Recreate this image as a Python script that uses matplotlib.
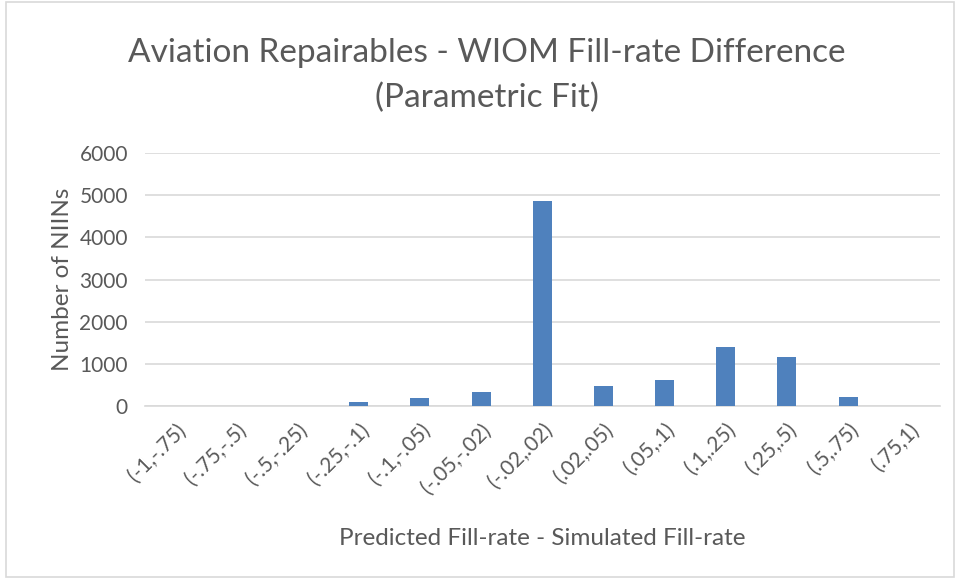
import numpy as np
import matplotlib.pyplot as plt
from matplotlib.patches import Rectangle

plt.rcParams['font.family'] = ['Lato', 'DejaVu Sans']

categories = ['(-1,-.75)', '(-.75,-.5)', '(-.5,-.25)', '(-.25,-.1)', '(-.1,-.05)',
              '(-.05,-.02)', '(-.02,.02)', '(.02,.05)', '(.05,.1)', '(.1,.25)',
              '(.25,.5)', '(.5,.75)', '(.75,1)']
counts = [0, 0, 0, 95, 185, 325, 4860, 470, 620, 1405, 1155, 215, 0]

grey = '#595959'
fig = plt.figure(figsize=(9.58, 5.8), dpi=100)
fig.patches.append(Rectangle((0.006, 0.006), 0.99, 0.99, transform=fig.transFigure,
                             fill=False, edgecolor='#d9d9d9', linewidth=1.2))
ax = fig.add_axes([0.151, 0.300, 0.830, 0.436])

x = np.arange(len(categories))
ax.bar(x, counts, width=0.31, color='#4f81bd', zorder=3)
ax.set_xlim(-0.5, len(categories) - 0.5)
ax.set_ylim(0, 6000)
ax.set_yticks(np.arange(0, 6001, 1000))
ax.grid(axis='y', color='#d9d9d9', linewidth=1.2, zorder=0)
for s in ['top', 'right', 'left']:
    ax.spines[s].set_visible(False)
ax.spines['bottom'].set_color('#d9d9d9')
ax.spines['bottom'].set_linewidth(1.2)
ax.tick_params(axis='both', length=0, colors=grey, labelsize=15)
ax.tick_params(axis='y', pad=12)
ax.set_xticks(x)
ax.set_xticklabels(categories, rotation=45, ha='right', rotation_mode='anchor')
ax.tick_params(axis='x', pad=10)

ax.set_ylabel('Number of NIINs', fontsize=17.5, color=grey, labelpad=5)
ax.set_xlabel('Predicted Fill-rate - Simulated Fill-rate', fontsize=17.5, color=grey, labelpad=22)
fig.text(0.508, 0.87, 'Aviation Repairables - WIOM Fill-rate Difference\n(Parametric Fit)',
         ha='center', va='center', fontsize=24, color=grey, linespacing=1.6)

fig.savefig('out.png', dpi=100)
